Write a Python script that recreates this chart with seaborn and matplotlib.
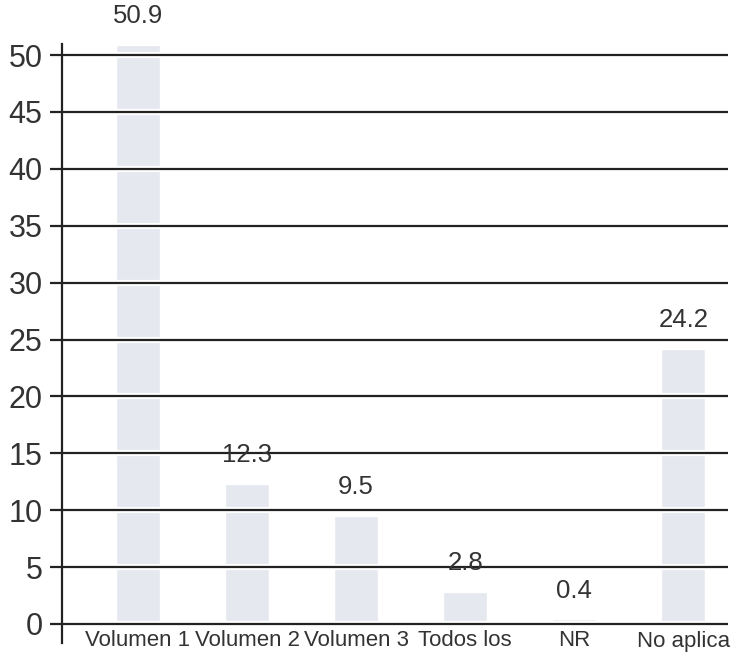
import matplotlib
matplotlib.use("Agg")
import matplotlib.pyplot as plt
import matplotlib.patheffects as pe
import seaborn as sns
import pandas as pd

categorias = ["Volumen 1", "Volumen 2", "Volumen 3", "Todos los", "NR", "No aplica"]
porcentajes = [50.9, 12.3, 9.5, 2.8, 0.4, 24.2]
etiquetas_y = [0, 5, 10, 15, 20, 25, 30, 35, 40, 45, 50]

df = pd.DataFrame({"categoria": categorias, "valor": porcentajes})

sns.set_style("white")
plt.rcParams["font.family"] = ["Liberation Sans", "DejaVu Sans"]

fig = plt.figure(figsize=(7.37, 6.58), dpi=100)
ax = fig.add_axes([62 / 737, 1 - 643 / 658, (728 - 62) / 737, (643 - 44) / 658])

sns.barplot(data=df, x="categoria", y="valor", color="#e5e8ef", width=0.4,
            saturation=1, ax=ax, zorder=1)

# lineas horizontales encima de las barras, con halo blanco
for v in etiquetas_y:
    ax.axhline(v, color="#222222", lw=1.6, zorder=3,
               path_effects=[pe.withStroke(linewidth=4.5, foreground="white")])

for i, v in enumerate(porcentajes):
    ax.annotate(f"{v}", (i, v), xytext=(0, 12), textcoords="offset points",
                ha="center", va="bottom", fontsize=18.5, color="#333333",
                annotation_clip=False, zorder=4)

ax.set_xlim(-0.697, 5.41)
ax.set_ylim(-1.67, 50.97)
ax.set_yticks(etiquetas_y)
ax.set_yticklabels([str(t) for t in etiquetas_y], fontsize=22, color="#333333")
ax.tick_params(axis="y", direction="out", length=9, width=1.6, color="#222222",
               pad=5, left=True)
ax.tick_params(axis="x", length=0, pad=-9, labelsize=16, labelcolor="#333333")
ax.set_xlabel("")
ax.set_ylabel("")
ax.yaxis.set_zorder(5)

for s in ["top", "right", "bottom"]:
    ax.spines[s].set_visible(False)
ax.spines["left"].set_color("#222222")
ax.spines["left"].set_linewidth(1.6)
ax.spines["left"].set_zorder(5)

fig.savefig("out.png", dpi=100)
